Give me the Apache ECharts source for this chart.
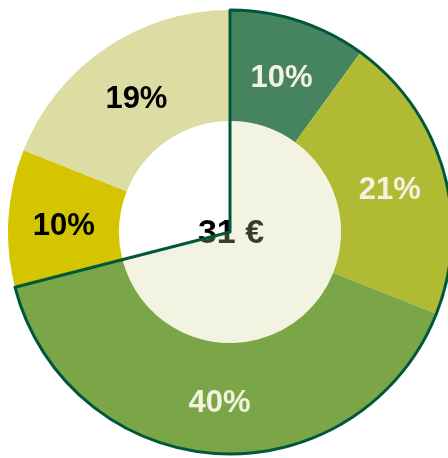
<!DOCTYPE html>
<html>
<head>
<meta charset="utf-8">
<script src="https://cdn.jsdelivr.net/npm/echarts@6.0.0/dist/echarts.min.js"></script>
<style>
html,body{margin:0;padding:0;background:#fff;}
#chart{width:448px;height:458px;}
</style>
</head>
<body>
<div id="chart"></div>
<script>
// Data
const categories = ['A', 'B', 'C', 'D', 'E'];
const values = [10, 21, 40, 10, 19];
const sliceColors = ['#45845f', '#b0ba32', '#7ba647', '#d5c500', '#dcdca3'];
const labelColors = ['#f3f1df', '#f3f1df', '#f3f1df', '#000000', '#000000'];
const highlightedCount = 3;
const centerText = '31 €';

const groupValue = values.slice(0, highlightedCount).reduce((a, b) => a + b, 0);
const restValue = values.slice(highlightedCount).reduce((a, b) => a + b, 0);

const chart = echarts.init(document.getElementById('chart'), null, {renderer: 'canvas'});
const CX = 230, CY = 232, R0 = 111, R1 = 222;
const font = "'Liberation Sans', Arial, sans-serif";

chart.setOption({
  animation: false,
  backgroundColor: '#ffffff',
  graphic: [{
    type: 'text',
    z: 0,
    x: 231,
    y: 234,
    style: {
      text: centerText,
      fill: '#000000',
      font: 'bold 34px ' + font,
      textAlign: 'center',
      textVerticalAlign: 'middle'
    }
  }],
  series: [
    {
      type: 'pie',
      z: 2,
      silent: true,
      center: [CX, CY],
      radius: [R0, R1],
      startAngle: 90,
      label: {show: false},
      labelLine: {show: false},
      itemStyle: {borderWidth: 0},
      data: categories.map((c, i) => ({
        name: c,
        value: values[i],
        itemStyle: {color: sliceColors[i]}
      }))
    },
    {
      type: 'pie',
      z: 5,
      silent: true,
      center: [CX, CY + 5],
      radius: [R0 - 3, R1 - 3],
      startAngle: 90,
      avoidLabelOverlap: false,
      label: {
        show: true,
        position: 'inside',
        formatter: p => p.value + '%',
        fontFamily: font,
        fontWeight: 'bold',
        fontSize: 31
      },
      labelLine: {show: false},
      itemStyle: {color: 'rgba(0,0,0,0)', borderWidth: 0},
      data: categories.map((c, i) => ({
        name: c,
        value: values[i],
        label: {color: labelColors[i]}
      }))
    },
    {
      type: 'pie',
      z: 3,
      silent: true,
      center: [CX, CY],
      radius: [0, R0],
      startAngle: 90,
      label: {show: false},
      labelLine: {show: false},
      data: [
        {value: groupValue, itemStyle: {color: 'rgba(213,213,149,0.28)', borderWidth: 0}},
        {value: restValue, itemStyle: {color: 'rgba(0,0,0,0)', borderWidth: 0}}
      ]
    },
    {
      type: 'pie',
      z: 4,
      silent: true,
      center: [CX, CY],
      radius: [0, R1],
      startAngle: 90,
      label: {show: false},
      labelLine: {show: false},
      data: [
        {value: groupValue, itemStyle: {color: 'rgba(0,0,0,0)', borderColor: '#00573c', borderWidth: 3}},
        {value: restValue, itemStyle: {color: 'rgba(0,0,0,0)', borderWidth: 0}}
      ]
    }
  ]
});
</script>
</body>
</html>
